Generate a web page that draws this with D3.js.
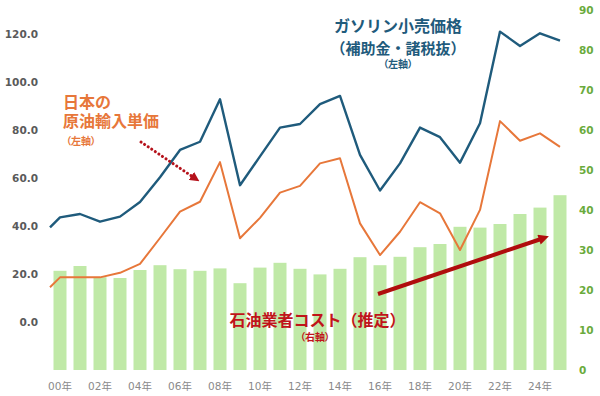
<!DOCTYPE html>
<html>
<head>
<meta charset="utf-8">
<script src="https://cdn.jsdelivr.net/npm/d3@7"></script>
<style>
  body { margin: 0; background: #fff; }
  svg { display: block; }
  .jp { font-family: "Noto Sans CJK JP", "Noto Sans", sans-serif; font-weight: 700; }
  .small { font-feature-settings: "palt"; }
</style>
</head>
<body>
<div class="chart"></div>
<script>
// years on the x axis (bars)
var years = [2000, 2001, 2002, 2003, 2004, 2005, 2006, 2007, 2008, 2009, 2010, 2011, 2012,
    2013, 2014, 2015, 2016, 2017, 2018, 2019, 2020, 2021, 2022, 2023, 2024, 2025];
var yearLabels = ["00年", "02年", "04年", "06年", "08年", "10年", "12年", "14年", "16年", "18年", "20年", "22年", "24年"];

// 石油業者コスト (right axis)
var costValues = [24.8, 26.0, 23.2, 23.0, 25.0, 26.2, 25.2, 24.8, 25.4, 21.7, 25.6, 26.8, 25.3,
    23.9, 25.3, 28.2, 26.2, 28.3, 30.7, 31.5, 35.8, 35.6, 36.5, 39.0, 40.6, 43.7];

// lines start half a year before 00年
var lineStart = 1999.5;
// ガソリン小売価格 (left axis), first value at lineStart
var gasolineValues = [39.4, 43.6, 45.0, 41.8, 43.9, 50.0, 60.3, 71.7, 75.1, 92.8, 57.0, 69.0, 81.0, 82.5,
    90.8, 94.2, 69.6, 54.8, 66.1, 81.0, 77.0, 66.4, 82.8, 121.0, 115.0, 120.3, 117.2];
// 日本の原油輸入単価 (left axis), first value at lineStart
var crudeValues = [14.5, 18.6, 18.6, 18.6, 20.5, 24.2, 35.0, 46.0, 50.1, 66.6, 34.9, 43.4, 53.9, 56.7,
    66.1, 68.2, 41.1, 27.9, 37.6, 49.9, 45.3, 30.0, 46.7, 83.7, 75.5, 78.6, 73.0];

var leftTicks = [0, 20, 40, 60, 80, 100, 120];
var rightTicks = [0, 10, 20, 30, 40, 50, 60, 70, 80, 90];

var svgWidth = 600;
var svgHeight = 396;

var blue = "#1f5b7c";
var orange = "#e7773a";
var red = "#c0141a";
var barColor = "#c0e9a7";

var svg = d3.select(".chart")
    .append("svg")
    .attr("width", svgWidth)
    .attr("height", svgHeight);

var defs = svg.append("defs");
defs.append("marker")
    .attr("id", "headSmall")
    .attr("viewBox", "0 0 10 10")
    .attr("refX", 2).attr("refY", 5)
    .attr("markerWidth", 3.2).attr("markerHeight", 3.2)
    .attr("markerUnits", "strokeWidth")
    .attr("orient", "auto")
    .append("path").attr("d", "M0,0L10,5L0,10Z").attr("fill", "#b5121b");
defs.append("marker")
    .attr("id", "headBig")
    .attr("viewBox", "0 0 10 10")
    .attr("refX", 2).attr("refY", 5)
    .attr("markerWidth", 3).attr("markerHeight", 2.6)
    .attr("markerUnits", "strokeWidth")
    .attr("orient", "auto")
    .append("path").attr("d", "M0,0L10,5L0,10Z").attr("fill", "#b00d0d");

var xBand = d3.scaleBand()
    .domain(years)
    .range([50, 570])
    .paddingInner(0.35)
    .paddingOuter(0.175);

var xLine = d3.scaleLinear()
    .domain([years[0], years[years.length - 1]])
    .range([xBand(years[0]) + xBand.bandwidth() / 2, xBand(years[years.length - 1]) + xBand.bandwidth() / 2]);

var yLeft = d3.scaleLinear().domain([-20, 130]).range([370, 10]);
var yRight = d3.scaleLinear().domain([0, 90]).range([370, 10]);

// bars
svg.append("g").selectAll("rect")
    .data(years)
    .enter()
    .append("rect")
    .attr("x", function (d) { return xBand(d); })
    .attr("width", xBand.bandwidth())
    .attr("y", function (d, i) { return yRight(costValues[i]); })
    .attr("height", function (d, i) { return yRight(0) - yRight(costValues[i]); })
    .attr("fill", barColor);

// lines
var lineYears = [lineStart].concat(years);
var line = d3.line()
    .x(function (d, i) { return xLine(lineYears[i]); })
    .y(function (d) { return yLeft(d); });

svg.append("path")
    .datum(crudeValues)
    .attr("d", line)
    .attr("fill", "none")
    .attr("stroke", orange)
    .attr("stroke-width", 2)
    .attr("stroke-linejoin", "round");

svg.append("path")
    .datum(gasolineValues)
    .attr("d", line)
    .attr("fill", "none")
    .attr("stroke", blue)
    .attr("stroke-width", 2.4)
    .attr("stroke-linejoin", "round");

// axes
var leftAxis = d3.axisLeft(yLeft).tickValues(leftTicks).tickFormat(d3.format(".1f")).tickSize(0).tickPadding(0);
var gLeft = svg.append("g")
    .attr("transform", "translate(38,0)")
    .call(leftAxis);
gLeft.select(".domain").remove();
gLeft.selectAll("text")
    .attr("font-family", "DejaVu Sans, Verdana, sans-serif")
    .attr("font-size", "10.5px")
    .attr("font-weight", "bold")
    .attr("fill", "#5a5a5a");

var rightAxis = d3.axisRight(yRight).tickValues(rightTicks).tickSize(0).tickPadding(0);
var gRight = svg.append("g")
    .attr("transform", "translate(579,0)")
    .call(rightAxis);
gRight.select(".domain").remove();
gRight.selectAll("text")
    .attr("font-family", "DejaVu Sans, Verdana, sans-serif")
    .attr("font-size", "10.5px")
    .attr("font-weight", "bold")
    .attr("fill", "#6aab3c");

var bottomAxis = d3.axisBottom(xBand)
    .tickValues(years.filter(function (d, i) { return i % 2 === 0; }))
    .tickFormat(function (d, i) { return yearLabels[i]; })
    .tickSize(0).tickPadding(0);
var gBottom = svg.append("g")
    .attr("transform", "translate(0,383)")
    .call(bottomAxis);
gBottom.select(".domain").remove();
gBottom.selectAll("text")
    .attr("font-family", "DejaVu Sans, 'Noto Sans CJK JP', sans-serif")
    .attr("font-size", "10.5px")
    .attr("fill", "#8a8a8a");

// annotations: one text block per label, one tspan per line
function block(color, anchor, rows) {
    var t = svg.append("text")
        .attr("class", "jp")
        .attr("fill", color)
        .attr("text-anchor", anchor)
        .attr("dominant-baseline", "central");
    rows.forEach(function (r) {
        t.append("tspan")
            .attr("x", r.x).attr("y", r.y)
            .attr("font-size", r.size + "px")
            .classed("small", r.size < 12)
            .text(r.text);
    });
    return t;
}

block(blue, "middle", [
    { x: 398, y: 25, size: 16, text: "ガソリン小売価格" },
    { x: 398, y: 46.5, size: 15, text: "（補助金・諸税抜）" },
    { x: 398, y: 63, size: 10, text: "（左軸）" }
]);

block(orange, "start", [
    { x: 63, y: 101, size: 16, text: "日本の" },
    { x: 63, y: 120, size: 16, text: "原油輸入単価" },
    { x: 66, y: 140, size: 10, text: "（左軸）" }
]);

block(red, "middle", [
    { x: 317.5, y: 318.5, size: 16, text: "石油業者コスト（推定）" },
    { x: 315, y: 336, size: 10, text: "（右軸）" }
]);

// arrows
svg.append("line")
    .attr("x1", 141).attr("y1", 142)
    .attr("x2", 193).attr("y2", 177)
    .attr("stroke", "#b5121b")
    .attr("stroke-width", 3)
    .attr("stroke-dasharray", "0.1,4.2")
    .attr("stroke-linecap", "round")
    .attr("marker-end", "url(#headSmall)");

svg.append("line")
    .attr("x1", 378).attr("y1", 294)
    .attr("x2", 541).attr("y2", 239)
    .attr("stroke", "#b00d0d")
    .attr("stroke-width", 4)
    .attr("marker-end", "url(#headBig)");
</script>
</body>
</html>
